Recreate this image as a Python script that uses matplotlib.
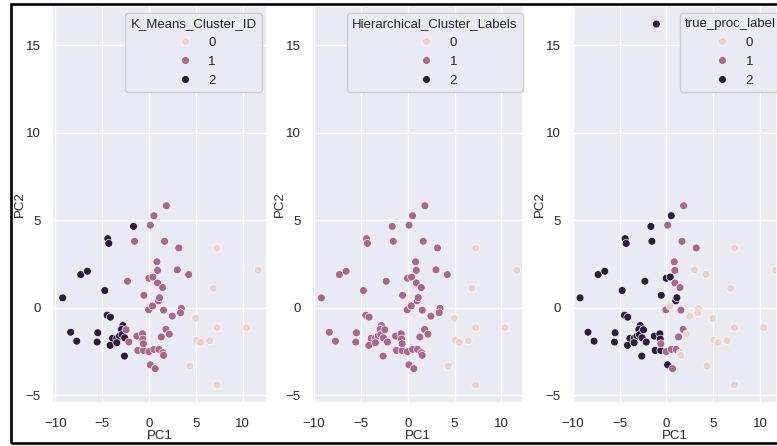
import pandas as pd
import seaborn as sns
import matplotlib.pyplot as plt
from matplotlib.patches import Rectangle

sns.set_theme(style='darkgrid')
plt.rcParams['font.family'] = ['Liberation Sans', 'DejaVu Sans']

# PCA scores
pc1 = [-1.66, -4.41, -4.30, -7.30, -6.59, -4.73, -9.23, -4.48, -4.13, -8.38,
       -7.73, -5.48, -5.55, -2.80, -2.95, -3.90, -3.45, -3.15, -2.88, -2.60,
       -4.16, -3.45, -2.63,
       -2.45, -2.16, 0.52, -1.55, -2.30, -0.02, 0.41, -0.55, 1.00, 1.12,
       -1.30, -0.70, -0.66, -1.20, -0.59, 0.13,
       -0.02, 0.52, 1.05, 1.84, 0.14, 1.66, 3.18, 0.84, 0.91, 0.91,
       1.45, -0.05, 1.55, 1.80, 1.30, 0.66, -0.60,
       1.48, 1.55, 3.02, 4.23, 0.37, 3.45, 3.36, 2.48, 2.16,
       7.27, 11.66, 6.86, 4.97, 7.27, 10.41, 5.05, 5.50, 6.48, 4.34, 7.27,
       -1.08]
pc2 = [4.65, 3.95, 3.68, 1.90, 2.09, 0.99, 0.57, -0.42, -0.53, -1.39,
       -1.90, -1.42, -1.95, -1.01, -1.23, -1.74, -1.74, -1.61, -1.53, -1.71,
       -2.14, -1.99, -2.75,
       -1.25, -1.95, 5.26, 3.80, 1.52, 1.69, 1.76, 0.72, 0.40, 0.58,
       -1.61, -1.48, -1.78, -2.43, -2.43, -3.25,
       -2.50, -2.37, -2.37, 5.83, 4.72, 3.80, 3.42, 2.63, 2.14, 1.42,
       1.16, -0.11, -0.13, -1.23, -1.66, -3.47, -2.05,
       -2.56, -2.71, 2.17, 1.90, 0.11, -0.03, -0.28, -0.47, -1.50,
       3.41, 2.14, 1.12, -0.60, -1.13, -1.13, -1.84, -1.97, -1.88, -3.32, -4.40,
       16.2]

k_means_id = [2] * 23 + [1] * 16 + [1] * 17 + [1] * 9 + [0] * 11 + [1]
hier_labels = [1] * 23 + [1] * 16 + [1] * 17 + [1] * 9 + [0] * 11 + [2]
true_labels = [2] * 23 + [2] * 16 + [1] * 17 + [0] * 9 + [0] * 11 + [2]

df = pd.DataFrame({'PC1': pc1, 'PC2': pc2,
                   'K_Means_Cluster_ID': k_means_id,
                   'Hierarchical_Cluster_Labels': hier_labels,
                   'true_proc_label': true_labels})

W, H = 777, 446
fig = plt.figure(figsize=(W / 100, H / 100), dpi=100)

ax_top, ax_bottom = 6, 403
ylim = (-5.43, 17.23)

# hue column, axes left/right (px), x limits, legend anchor
panels = [
    ('K_Means_Cluster_ID', 52, 267, (-10.37, 12.6), 'upper right', 262),
    ('Hierarchical_Cluster_Labels', 312, 523, (-10.23, 12.32), 'upper right', 523),
    ('true_proc_label', 572, 777, (-10.09, 11.82), 'upper left', 680),
]

for col, left, right, xlim, loc, lx in panels:
    ax = fig.add_axes([left / W, 1 - ax_bottom / H, (right - left) / W, (ax_bottom - ax_top) / H])
    sns.scatterplot(data=df, x='PC1', y='PC2', hue=col, s=32, ax=ax, legend='full')
    ax.set_xlim(xlim)
    ax.set_ylim(ylim)
    ax.set_xticks([-10, -5, 0, 5, 10])
    ax.set_yticks([-5, 0, 5, 10, 15])
    ax.tick_params(axis='both', labelsize=9.5, colors='#262626')
    ax.tick_params(axis='x', pad=5)
    ax.tick_params(axis='y', pad=2)
    ax.set_xlabel('PC1', fontsize=9.5, labelpad=0)
    ax.set_ylabel('PC2', fontsize=9.5, labelpad=0)
    sns.move_legend(ax, loc, bbox_to_anchor=(lx / W, 1 - 13 / H),
                    bbox_transform=fig.transFigure, borderaxespad=0,
                    fontsize=9.5, title_fontsize=9.5, title=col, framealpha=0.95)

# screenshot frame
fig.add_artist(Rectangle((11 / W, 3.5 / H), 1.2, (442 - 3.5) / H,
                         transform=fig.transFigure, fill=False,
                         lw=1.9, ec='black', zorder=10))

fig.savefig('out.png', dpi=100)
